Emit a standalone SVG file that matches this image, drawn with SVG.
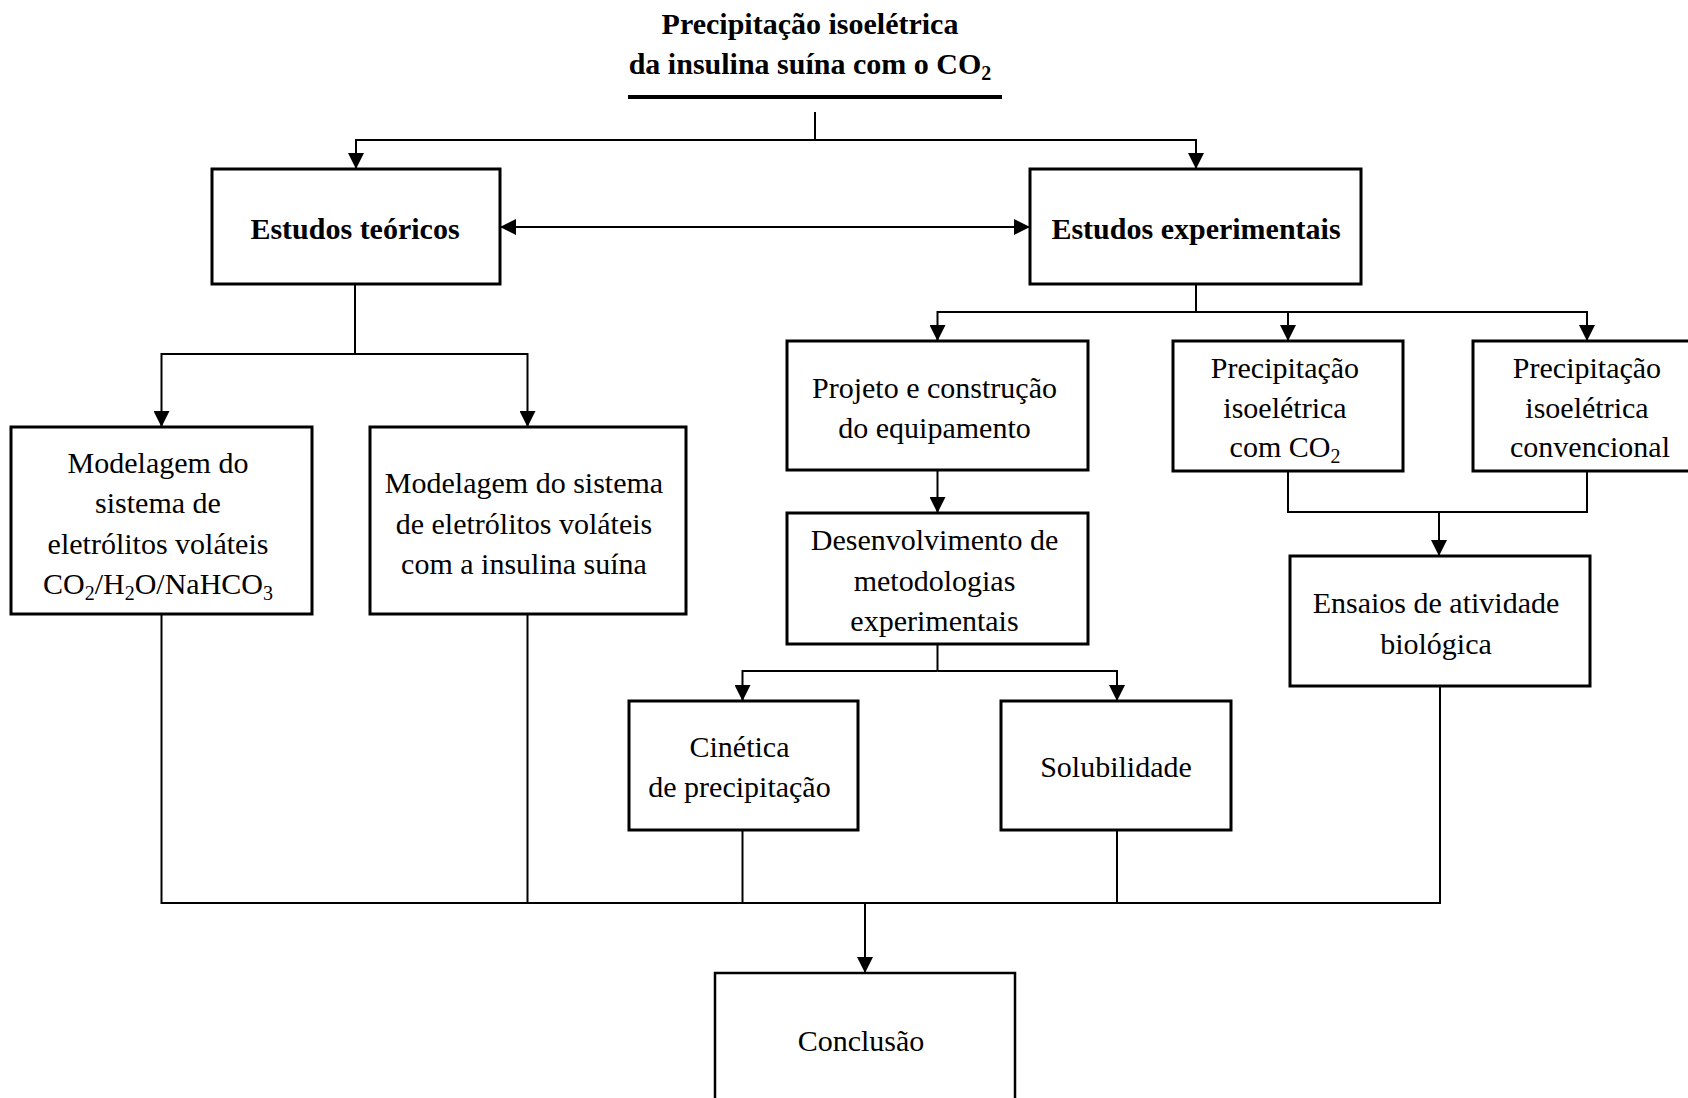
<svg xmlns="http://www.w3.org/2000/svg" width="1688" height="1098" viewBox="0 0 1688 1098">
<style>
  text { font-family: "Liberation Serif", "Times New Roman", serif; font-size: 30px; fill: #000; text-anchor: middle; }
  .b { font-weight: bold; }
  .box { fill: #fff; stroke: #000; stroke-width: 3; }
  .ln { fill: none; stroke: #000; stroke-width: 2; }
  .ar { fill: none; stroke: #000; stroke-width: 2; marker-end: url(#ah); }
</style>
<defs>
  <marker id="ah" markerUnits="userSpaceOnUse" viewBox="0 0 16 16" refX="16" refY="8" markerWidth="16" markerHeight="16" orient="auto-start-reverse">
    <path d="M0,0 L16,8 L0,16 z" fill="#000"/>
  </marker>
</defs>
<rect width="1688" height="1098" fill="#fff"/>

<g id="title">
  <text class="b" x="810" y="34">Precipitação isoelétrica</text>
  <text class="b" x="810" y="74">da insulina suína com o CO<tspan font-size="20" dy="6">2</tspan></text>
  <line x1="628" y1="97" x2="1002" y2="97" stroke="#000" stroke-width="4"/>
</g>

<g id="connectors">
  <polyline class="ln" points="815,112 815,140"/>
  <polyline class="ar" points="815,140 356,140 356,169"/>
  <polyline class="ar" points="815,140 1196,140 1196,169"/>
  <line class="ar" x1="500" y1="227" x2="1030" y2="227" marker-start="url(#ah)"/>
  <polyline class="ln" points="355,284 355,354"/>
  <polyline class="ar" points="355,354 161.5,354 161.5,427"/>
  <polyline class="ar" points="355,354 527.5,354 527.5,427"/>
  <polyline class="ln" points="1196,284 1196,312"/>
  <polyline class="ar" points="1196,312 937.5,312 937.5,341"/>
  <polyline class="ar" points="1196,312 1288,312 1288,341"/>
  <polyline class="ar" points="1196,312 1587,312 1587,341"/>
  <line class="ar" x1="937.5" y1="470" x2="937.5" y2="513"/>
  <polyline class="ln" points="937.5,644 937.5,671"/>
  <polyline class="ar" points="937.5,671 742.5,671 742.5,701"/>
  <polyline class="ar" points="937.5,671 1117,671 1117,701"/>
  <polyline class="ln" points="1288,471 1288,512 1587,512 1587,471"/>
  <line class="ar" x1="1439" y1="512" x2="1439" y2="556"/>
  <polyline class="ln" points="161.5,614 161.5,903 1440,903 1440,686"/>
  <line class="ln" x1="527.5" y1="614" x2="527.5" y2="903"/>
  <line class="ln" x1="742.5" y1="830" x2="742.5" y2="903"/>
  <line class="ln" x1="1117" y1="830" x2="1117" y2="903"/>
  <line class="ar" x1="865" y1="903" x2="865" y2="973"/>
</g>

<g id="estudos-teoricos">
  <rect class="box" x="212" y="169" width="288" height="115"/>
  <text class="b" x="355" y="239">Estudos teóricos</text>
</g>

<g id="estudos-experimentais">
  <rect class="box" x="1030" y="169" width="331" height="115"/>
  <text class="b" x="1196" y="239">Estudos experimentais</text>
</g>

<g id="modelagem-eletrolitos">
  <rect class="box" x="11" y="427" width="301" height="187"/>
  <text x="158" y="473">Modelagem do</text>
  <text x="158" y="513">sistema de</text>
  <text x="158" y="554">eletrólitos voláteis</text>
  <text x="158" y="594">CO<tspan font-size="20" dy="6">2</tspan><tspan dy="-6">/H</tspan><tspan font-size="20" dy="6">2</tspan><tspan dy="-6">O/NaHCO</tspan><tspan font-size="20" dy="6">3</tspan></text>
</g>

<g id="modelagem-insulina">
  <rect class="box" x="370" y="427" width="316" height="187"/>
  <text x="524" y="493">Modelagem do sistema</text>
  <text x="524" y="534">de eletrólitos voláteis</text>
  <text x="524" y="574">com a insulina suína</text>
</g>

<g id="projeto">
  <rect class="box" x="787" y="341" width="301" height="129"/>
  <text x="934.5" y="398">Projeto e construção</text>
  <text x="934.5" y="438">do equipamento</text>
</g>

<g id="precip-co2">
  <rect class="box" x="1173" y="341" width="230" height="130"/>
  <text x="1285" y="378">Precipitação</text>
  <text x="1285" y="418">isoelétrica</text>
  <text x="1285" y="457">com CO<tspan font-size="20" dy="6">2</tspan></text>
</g>

<g id="precip-convencional">
  <rect class="box" x="1473" y="341" width="230" height="130"/>
  <text x="1587" y="378">Precipitação</text>
  <text x="1587" y="418">isoelétrica</text>
  <text x="1590" y="457">convencional</text>
</g>

<g id="desenvolvimento">
  <rect class="box" x="787" y="513" width="301" height="131"/>
  <text x="934.5" y="550">Desenvolvimento de</text>
  <text x="934.5" y="591">metodologias</text>
  <text x="934.5" y="631">experimentais</text>
</g>

<g id="ensaios">
  <rect class="box" x="1290" y="556" width="300" height="130"/>
  <text x="1436" y="613">Ensaios de atividade</text>
  <text x="1436" y="654">biológica</text>
</g>

<g id="cinetica">
  <rect class="box" x="629" y="701" width="229" height="129"/>
  <text x="739.5" y="757">Cinética</text>
  <text x="739.5" y="797">de precipitação</text>
</g>

<g id="solubilidade">
  <rect class="box" x="1001" y="701" width="230" height="129"/>
  <text x="1116" y="777">Solubilidade</text>
</g>

<g id="conclusao">
  <rect class="box" x="715" y="973" width="300" height="140" style="stroke-width:2.5"/>
  <text x="861" y="1051">Conclusão</text>
</g>
</svg>
